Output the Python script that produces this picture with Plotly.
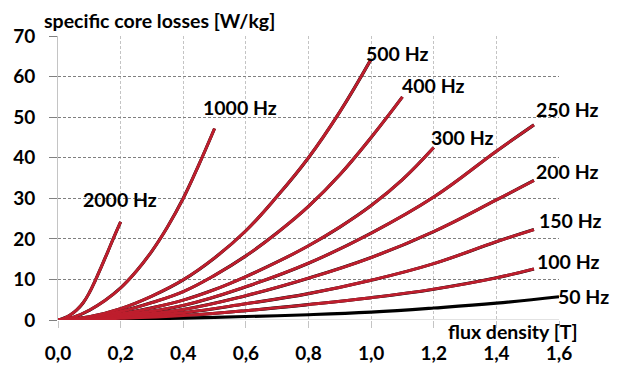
import plotly.graph_objects as go

# Specific core losses vs. peak flux density for several excitation frequencies
B_2000 = [0.00, 0.02, 0.04, 0.06, 0.08, 0.10, 0.12, 0.14, 0.16, 0.18, 0.20]
P_2000 = [0.0, 0.5, 1.3, 2.5, 4.2, 6.7, 9.9, 13.4, 17.0, 20.7, 24.2]

B_1000 = [0.00, 0.05, 0.10, 0.15, 0.20, 0.25, 0.30, 0.35, 0.40, 0.45, 0.50]
P_1000 = [0.0, 0.7, 2.4, 4.8, 7.9, 12.0, 17.0, 23.0, 30.0, 38.3, 47.2]

B_500 = [0.0, 0.1, 0.2, 0.3, 0.4, 0.5, 0.6, 0.7, 0.8, 0.9, 1.0]
P_500 = [0.0, 0.8, 2.8, 5.9, 9.9, 15.3, 22.0, 30.5, 40.0, 51.3, 64.3]

B_400 = [0.0, 0.1, 0.2, 0.3, 0.4, 0.5, 0.6, 0.7, 0.8, 0.9, 1.0, 1.1]
P_400 = [0.0, 0.6, 2.1, 4.3, 7.0, 11.0, 15.8, 21.5, 28.0, 35.8, 45.0, 55.0]

B_300 = [0.0, 0.1, 0.2, 0.3, 0.4, 0.5, 0.6, 0.7, 0.8, 0.9, 1.0, 1.1, 1.2]
P_300 = [0.0, 0.4, 1.5, 3.0, 4.9, 7.5, 10.7, 14.3, 18.3, 22.9, 28.2, 34.6, 42.5]

B_LOW = [0.0, 0.2, 0.4, 0.6, 0.8, 1.0, 1.2, 1.4, 1.52]
P_250 = [0.0, 1.2, 3.6, 8.2, 14.0, 21.4, 30.3, 41.6, 48.1]
P_200 = [0.0, 0.9, 2.6, 6.0, 10.3, 15.4, 21.8, 29.6, 34.4]
P_150 = [0.0, 0.65, 1.8, 4.0, 6.5, 9.8, 13.9, 19.3, 22.3]
P_100 = [0.0, 0.4, 1.1, 2.3, 3.8, 5.5, 7.6, 10.4, 12.6]

B_50 = [0.0, 0.2, 0.4, 0.6, 0.8, 1.0, 1.2, 1.4, 1.6]
P_50 = [0.0, 0.18, 0.45, 0.85, 1.3, 1.95, 2.95, 4.15, 5.75]

series = [
    ("2000 Hz", B_2000, P_2000),
    ("1000 Hz", B_1000, P_1000),
    ("500 Hz", B_500, P_500),
    ("400 Hz", B_400, P_400),
    ("300 Hz", B_300, P_300),
    ("250 Hz", B_LOW, P_250),
    ("200 Hz", B_LOW, P_200),
    ("150 Hz", B_LOW, P_150),
    ("100 Hz", B_LOW, P_100),
]

# Curve label anchors (data coordinates; some lie right of the 1.6 T edge)
label_text = ["2000 Hz", "1000 Hz", "500 Hz", "400 Hz", "300 Hz",
              "250 Hz", "200 Hz", "150 Hz", "100 Hz", "50 Hz"]
label_x = [0.198, 0.581, 1.083, 1.198, 1.290, 1.626, 1.626, 1.635, 1.629, 1.677]
label_y = [29.8, 52.3, 65.8, 57.7, 45.1, 52.0, 36.7, 24.6, 14.3, 5.7]

X_MAX = 1.6
Y_MAX = 70
x_ticks = [0.0, 0.2, 0.4, 0.6, 0.8, 1.0, 1.2, 1.4, 1.6]
y_ticks = [0, 10, 20, 30, 40, 50, 60, 70]

RED = "#BE1E2D"
FONT = "Lato"
FS = 19.5
TICK_FS = 19

fig = go.Figure()

# measured curves (black) underneath
for name, bx, py in series + [("50 Hz", B_50, P_50)]:
    fig.add_trace(go.Scatter(
        x=bx, y=py, mode="lines", name=name + " measured",
        line=dict(color="black", width=3.1, shape="spline", smoothing=1.2),
        showlegend=False, hoverinfo="skip"))

# fitted curves (red) on top
for name, bx, py in series:
    fig.add_trace(go.Scatter(
        x=bx, y=py, mode="lines", name=name,
        line=dict(color=RED, width=2.9, shape="spline", smoothing=1.2),
        showlegend=False))

for t, xx, yy in zip(label_text, label_x, label_y):
    fig.add_annotation(x=xx / X_MAX, y=yy / Y_MAX, xref="x domain", yref="y domain",
                       text=t, showarrow=False,
                       font=dict(family=FONT, size=FS, color="black", weight="bold"),
                       xanchor="center", yanchor="middle")

fig.add_annotation(x=-0.032, y=1.056, xref="paper", yref="paper",
                   text="specific core losses [W/kg]", showarrow=False,
                   font=dict(family=FONT, size=FS, color="black", weight="bold"),
                   xanchor="left", yanchor="middle")
fig.add_annotation(x=0.908, y=-0.039, xref="paper", yref="paper",
                   text="flux density [T]", showarrow=False,
                   font=dict(family=FONT, size=FS, color="black", weight="bold"),
                   xanchor="center", yanchor="middle")

fig.update_layout(
    width=618, height=365,
    margin=dict(l=58, r=59, t=36, b=45),
    paper_bgcolor="white", plot_bgcolor="white",
    separators=", ",
    font=dict(family=FONT, color="black"),
)

fig.update_xaxes(
    range=[0, X_MAX], tickvals=x_ticks, tickformat=".1f",
    automargin=False,
    showgrid=True, gridcolor="#c4c4c4", griddash="3px,2px", gridwidth=1,
    showline=False, zeroline=False,
    ticks="outside", ticklen=7, tickcolor="#c4c4c4",
    ticklabelstandoff=9,
    tickfont=dict(family=FONT, size=TICK_FS, color="black", weight="bold"),
)
fig.update_yaxes(
    range=[0, Y_MAX], tickvals=y_ticks,
    automargin=False,
    showgrid=True, gridcolor="#808080", griddash="3px,2px", gridwidth=1,
    showline=True, linecolor="#c4c4c4", linewidth=1,
    zeroline=False,
    ticks="outside", ticklen=8, tickcolor="#808080",
    ticklabelstandoff=10,
    tickfont=dict(family=FONT, size=TICK_FS, color="black", weight="bold"),
)

# solid baseline at zero losses
fig.add_shape(type="line", xref="x", yref="y", x0=0, x1=X_MAX, y0=0, y1=0,
              line=dict(color="#c4c4c4", width=1), layer="below")

fig.write_html("out.html")
